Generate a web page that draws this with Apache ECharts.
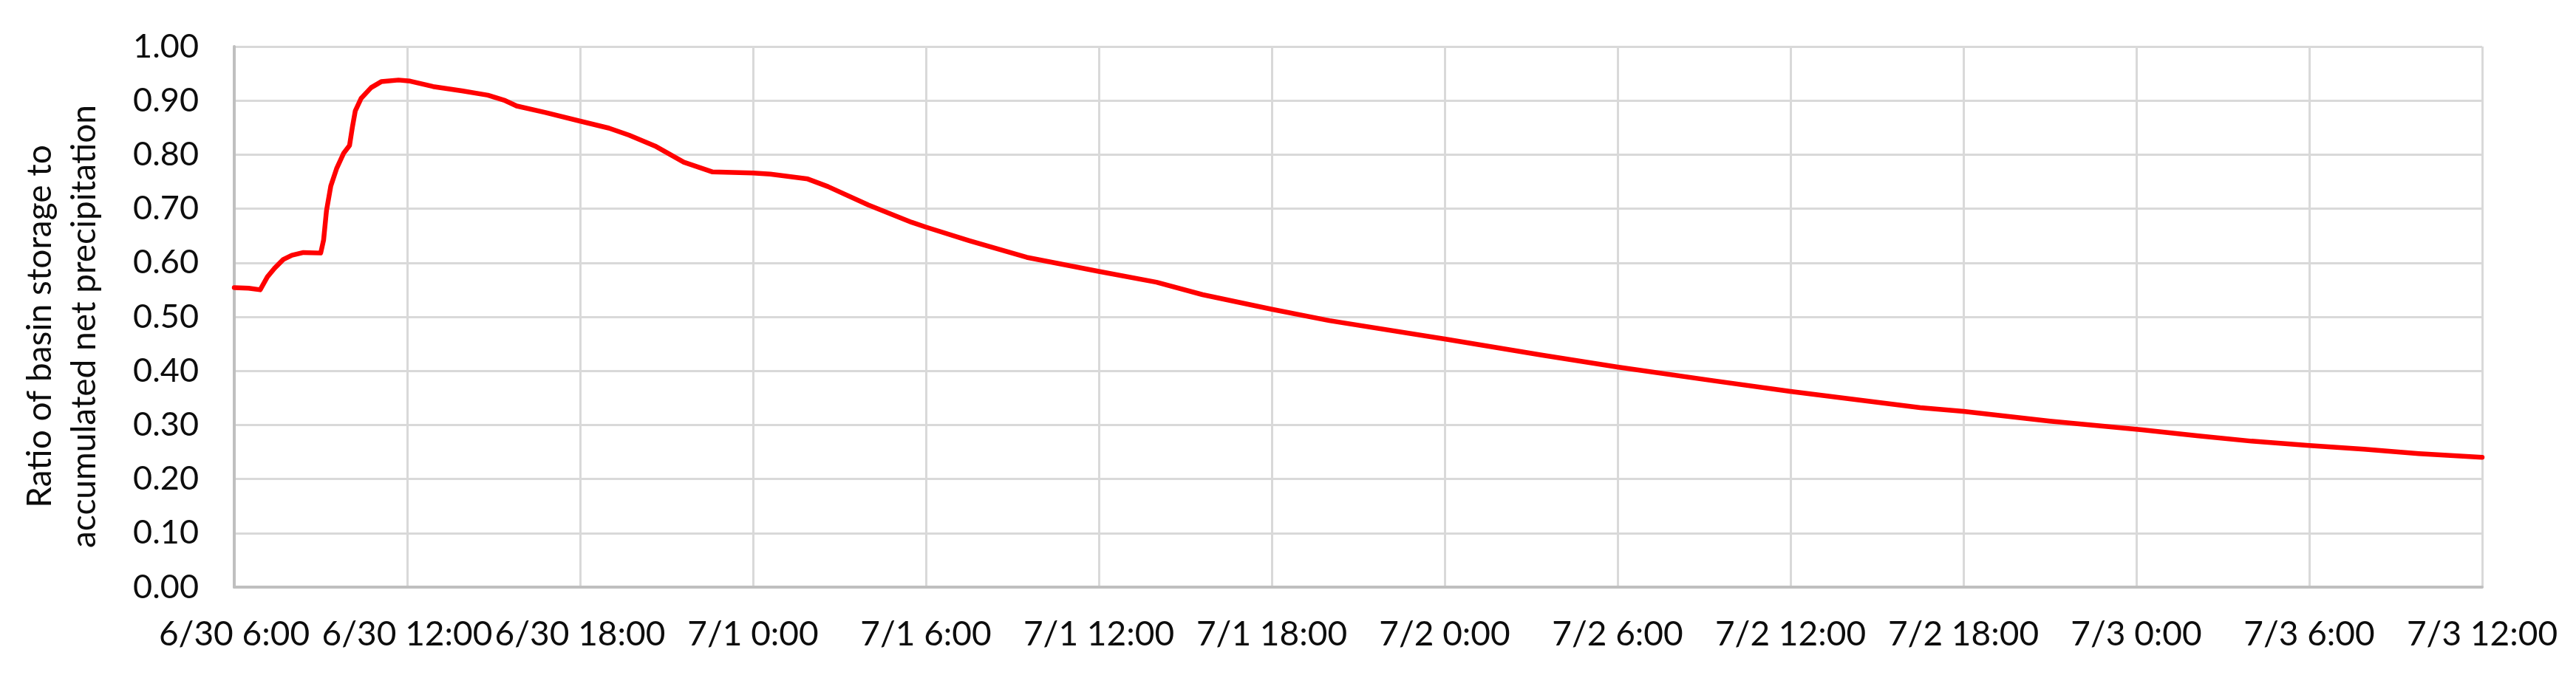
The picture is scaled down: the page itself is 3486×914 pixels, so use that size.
<!DOCTYPE html>
<html>
<head>
<meta charset="utf-8">
<script src="https://cdn.jsdelivr.net/npm/echarts@6/dist/echarts.min.js"></script>
<style>
  html, body { margin: 0; padding: 0; background: #ffffff; }
  #chart { width: 3486px; height: 914px; }
</style>
</head>
<body>
<div id="chart"></div>
<script>
// hours after 6/30 6:00
const hours = [
  0, 0.5, 0.9, 1.15, 1.4, 1.7, 2.0, 2.4, 3.0, 3.1, 3.2, 3.35, 3.55, 3.8, 4.0,
  4.1, 4.2, 4.4, 4.75, 5.1, 5.7, 6.1, 6.9, 7.9, 8.8, 9.4, 9.8, 10.8, 12.0,
  13.0, 13.7, 14.6, 15.6, 16.6, 18.0, 18.6, 19.9, 20.6, 22.0, 23.5, 24.0,
  25.5, 27.5, 30.0, 32.0, 33.6, 36.0, 38.0, 42.0, 45.4, 48.0, 51.3, 54.0,
  58.5, 60.0, 63.0, 66.2, 68.1, 70.0, 72.0, 73.9, 75.8, 78.0
];
const ratio = [
  0.554, 0.553, 0.550, 0.574, 0.590, 0.606, 0.614, 0.619, 0.618, 0.642, 0.696, 0.742, 0.774, 0.803, 0.817,
  0.851, 0.881, 0.904, 0.924, 0.935, 0.938, 0.936, 0.926, 0.918, 0.910, 0.900, 0.890, 0.878, 0.862,
  0.849, 0.836, 0.816, 0.786, 0.768, 0.766, 0.764, 0.755, 0.741, 0.707, 0.675, 0.666,
  0.641, 0.610, 0.584, 0.564, 0.541, 0.514, 0.493, 0.459, 0.429, 0.407, 0.382, 0.362,
  0.332, 0.325, 0.307, 0.291, 0.280, 0.270, 0.262, 0.255, 0.247, 0.240
];
const xTickLabels = [
  '6/30 6:00', '6/30 12:00', '6/30 18:00', '7/1 0:00', '7/1 6:00', '7/1 12:00', '7/1 18:00',
  '7/2 0:00', '7/2 6:00', '7/2 12:00', '7/2 18:00', '7/3 0:00', '7/3 6:00', '7/3 12:00'
];
const yTitle = 'Ratio of basin storage to\naccumulated net precipitation';

const chart = echarts.init(document.getElementById('chart'));

const gridColor = '#d9d9d9';
const axisColor = '#bfbfbf';
const textColor = '#0d0d0d';
const font = 'Lato, "Open Sans", sans-serif';

chart.setOption({
  animation: false,
  backgroundColor: '#ffffff',
  grid: { left: 317, right: 127, top: 63, bottom: 119 },
  xAxis: {
    type: 'value',
    min: 0,
    max: 78,
    interval: 6,
    axisLine: { show: true, lineStyle: { color: axisColor, width: 4 } },
    axisTick: { show: false },
    splitLine: { show: true, lineStyle: { color: gridColor, width: 3 } },
    axisLabel: {
      margin: 41,
      color: textColor,
      fontFamily: font,
      fontSize: 46,
      formatter: v => xTickLabels[Math.round(v / 6)] || ''
    }
  },
  yAxis: {
    type: 'value',
    min: 0,
    max: 1,
    interval: 0.1,
    name: yTitle,
    nameLocation: 'middle',
    nameRotate: 90,
    nameGap: 173,
    nameTextStyle: {
      color: textColor,
      fontFamily: font,
      fontSize: 46,
      lineHeight: 60,
      padding: [0, 26, 0, 0]
    },
    axisLine: { show: true, lineStyle: { color: axisColor, width: 4 } },
    axisTick: { show: false },
    splitLine: { show: true, lineStyle: { color: gridColor, width: 3 } },
    axisLabel: {
      margin: 48,
      color: textColor,
      fontFamily: font,
      fontSize: 45,
      formatter: v => v.toFixed(2)
    }
  },
  series: [{
    type: 'line',
    data: hours.map((h, i) => [h, ratio[i]]),
    showSymbol: false,
    smooth: false,
    lineStyle: { color: '#ff0000', width: 6.5, join: 'round', cap: 'round' },
    itemStyle: { color: '#ff0000' }
  }]
});
</script>
</body>
</html>
